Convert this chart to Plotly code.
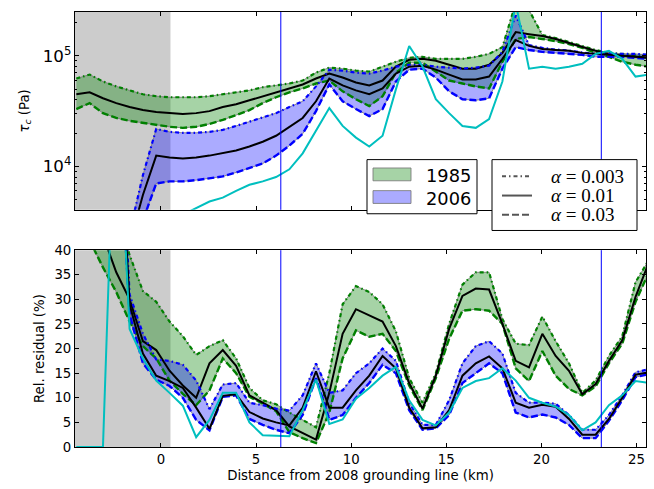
import plotly.graph_objects as go

# ---------------- data ----------------
X_KM = [-4.45, -3.75, -3.05, -2.35, -1.65, -0.95, -0.25, 0.45, 1.15, 1.85, 2.55,
        3.25, 3.95, 4.65, 5.35, 6.05, 6.75, 7.45, 8.15, 8.85, 9.55, 10.25, 10.95,
        11.65, 12.35, 13.05, 13.75, 14.45, 15.15, 15.85, 16.55, 17.25, 17.95, 18.65,
        19.35, 20.05, 20.75, 21.45, 22.15, 22.85, 23.55, 24.25, 24.95, 25.65]

# basal shear stress tau_c (kPa) -- 1985 band (alpha = 0.003 / 0.01 / 0.03)
TAU85_HI = [62.3, 67.7, 58.6, 52.9, 48.7, 44.9, 43.1, 42.2, 42.2, 42.2, 43.1, 44.9, 46.7,
            48.7, 52.0, 54.0, 56.2, 59.8, 70.5, 78.2, 76.6, 73.5, 72.0, 79.8, 88.4, 96,
            98, 94, 94, 94, 98, 104.2, 120, 300, 260, 154, 145, 133, 123, 113, 106.4,
            104.2, 102, 102]
TAU85_MID = [44.9, 46.7, 41.3, 37.3, 34.4, 32.3, 31.0, 30.3, 29.7, 30.3, 31.6, 34.4, 36.5,
             39.6, 43.1, 46.7, 50.7, 55.1, 62.3, 69.1, 63.6, 57.4, 54.0, 59.8, 79.8, 92,
             94, 90.2, 83.1, 76.6, 76.6, 83.1, 106.4, 164, 157, 151, 142, 131, 120, 111,
             104.2, 100, 98, 96]
TAU85_LO = [33.0, 37.3, 30.3, 27.4, 25.8, 24.7, 23.7, 22.8, 22.3, 22.8, 24.2, 26.3, 29.1,
            32.3, 37.3, 42.2, 46.7, 50.7, 56.2, 59.8, 47.7, 40.5, 35.1, 43.1, 70.5, 86.6,
            86.6, 72.0, 59.8, 56.2, 52.9, 50.7, 88.4, 142, 148, 142, 136, 128, 118, 106.4,
            98, 88.4, 83.1, 79.8]
# 2006 band
TAU06_HI = [None, None, None, None, 2.5, 8.3, 21.8, 20.5, 20.1, 20.1, 20.5, 21.4, 23.2,
            25.3, 27.4, 30.3, 34.4, 38.8, 52.9, 75, 73.5, 70.5, 69.1, 73.5, 79.8, 83.1,
            83.1, 79.8, 78.2, 76.6, 78.2, 81.5, 108.6, 232, 125, 118, 114, 112, 107,
            104.2, 104.2, 104.2, 104.2, 102]
TAU06_MID = [None, None, None, None, 2.0, 5.5, 12.5, 12.0, 11.8, 12.0, 12.5, 13.1, 13.9,
             15.1, 16.7, 18.9, 22.8, 27.4, 38.8, 62.3, 54.0, 48.7, 44.9, 50.7, 69.1, 79.8,
             81.5, 75.0, 67.7, 61.1, 61.1, 64.9, 94, 139, 123, 115.5, 113, 111, 106.4,
             104.2, 102, 100, 98, 96]
TAU06_LO = [None, None, None, None, 1.5, 3.3, 7.0, 7.3, 7.3, 7.5, 7.8, 8.1, 8.8, 9.6,
            10.6, 12.5, 15.4, 19.7, 31.6, 55.1, 38.8, 33.0, 28.5, 33.0, 58.6, 75.0, 76.6,
            63.6, 47.7, 40.5, 39.6, 41.3, 76.6, 120, 113, 108.6, 106.4, 104.2, 102, 98,
            98, 98, 96, 94]
TAU_CYAN = [2.0, 2.0, 2.0, 2.1, 2.2, 2.4, 2.7, 3.1, 3.65, 4.2, 4.8, 5.2, 6.0, 6.8, 7.3,
            8.0, 9.4, 13.1, 20.9, 33.7, 23.2, 18.2, 15.1, 18.9, 49.7, 123, 80, 40.5, 30.3,
            23.2, 22.3, 26.8, 58.6, 300, 76.6, 79.8, 76.6, 79.8, 84.9, 104, 111, 94, 64.9,
            67.7]

# relative residual (%)
RES85_HI = [70, 58, 50, 48, 39, 31.7, 29.5, 25.5, 22.5, 18.7, 20.5, 21.7, 18, 12, 9.5,
            8.7, 7, 5.5, 4, 15, 29, 32.7, 31.5, 29, 23.5, 14, 9, 15, 25, 33, 35.5, 35.5,
            26, 21, 20.7, 26.5, 21.5, 17, 11, 13.5, 18.5, 22.5, 33.5, 38]
RES85_MID = [65, 55, 43, 35.5, 30, 21.5, 19.7, 15.5, 12.5, 10, 17, 19.7, 16.5, 10.5, 9,
             7.5, 4.2, 2.8, 1.5, 11, 23, 28, 26.7, 25.5, 20.5, 13, 7.8, 14.5, 24, 30.7,
             32.2, 32, 25, 17.5, 16.2, 23, 18.5, 15.5, 10.7, 12.8, 17.5, 21.7, 30.5, 37.5]
RES85_LO = [50, 42, 36.5, 31.5, 25.5, 20.5, 18, 13.5, 10.8, 8.5, 11.5, 18, 15, 10.2, 8.8,
            7.3, 3, 1.8, 0.8, 7, 18, 23.7, 22.4, 23, 19.5, 12.5, 7.5, 14, 22, 27.7, 28,
            27.7, 25, 16, 13.4, 19.5, 14.5, 11.8, 10.5, 12.3, 17, 21, 29.5, 35.5]
RES06_HI = [None, None, None, 85, 31, 23, 17.8, 17.5, 16.7, 13.5, 7.7, 12.7, 13, 9, 8.5,
            7.8, 7.4, 10.5, 17, 11, 11.5, 15, 17, 20, 17.5, 9, 4.5, 4.5, 9.5, 17, 20.5,
            21.5, 19, 11, 9, 9, 8.8, 6.5, 3.5, 3.5, 6.5, 10.5, 15.2, 15.8]
RES06_MID = [None, None, None, 80, 29, 19, 14.5, 13.4, 12, 8, 3.7, 10.4, 10.7, 7.1, 5.8,
             5, 4.4, 8, 15.4, 8, 8, 11.5, 14.5, 18.5, 16, 8, 3.8, 4, 7.5, 14.5, 17, 18.4,
             16, 9, 8, 8.6, 8.2, 5.7, 2.5, 2.5, 5.7, 10, 14.7, 15.2]
RES06_LO = [None, None, None, 75, 27, 17, 13.7, 12.4, 10, 5.5, 3.4, 10.2, 10.5, 5.7, 4.5,
            3.5, 2.8, 6.5, 14, 5.5, 6.5, 10, 13, 16.7, 15, 7.5, 3.5, 3.8, 6.5, 13, 15, 17,
            15, 7, 6, 6.6, 6, 4.5, 1.8, 1.8, 5.3, 9.5, 14.2, 14.8]
RES_CYAN = [0, 0, 0, 80, 24, 18, 13.5, 11, 8.4, 2, 5.5, 11, 11, 5, 2.4, 2.3, 2.2, 7.5,
            13.7, 4.7, 5.6, 9.8, 12, 14.5, 16.3, 9.5, 5.5, 4.4, 7, 12, 13.4, 14, 16, 13.5,
            10, 9, 8.2, 6.5, 3.4, 5, 8.5, 10.5, 13.4, 13]

GRAY_SPAN = [-4.6, 0.5]          # km
GROUNDING_MARKS = [6.3, 23.15]    # km
X_TICKS = [0, 5, 10, 15, 20, 25]
YEARS = ["1985", "2006"]
ALPHA_LABELS = ["0.003", "0.01", "0.03"]

# ---------------- styles ----------------
GREEN, BLUE, CYAN = "#008000", "#0000ff", "#00bfbf"
GREEN_FILL, BLUE_FILL = "rgba(0,128,0,0.35)", "rgba(0,0,255,0.33)"
EDGE = "rgba(120,120,120,0.85)"
DASHDOT = "4px,3px,1.5px,3px"
DASHED = "7px,3px"
FONT = "DejaVu Sans"

# figure geometry (pixels)
W, H = 654, 489
ML, MR, MT, MB = 75, 8, 5, 42
PW, PH = W - ML - MR, H - MT - MB

fig = go.Figure()


def pts(ys, scale=1.0):
    xs_out, ys_out = [], []
    for x, y in zip(X_KM, ys):
        if y is not None:
            xs_out.append(x)
            ys_out.append(y * scale)
    return xs_out, ys_out


def band(hi, lo, fill, xa, ya, scale=1.0):
    x1, y1 = pts(hi, scale)
    x2, y2 = pts(lo, scale)
    fig.add_trace(go.Scatter(x=x1, y=y1, mode="lines", line=dict(color=EDGE, width=1),
                             showlegend=False, xaxis=xa, yaxis=ya, hoverinfo="skip"))
    fig.add_trace(go.Scatter(x=x2, y=y2, mode="lines", line=dict(color=EDGE, width=1),
                             fill="tonexty", fillcolor=fill, showlegend=False,
                             xaxis=xa, yaxis=ya, hoverinfo="skip"))


def line(ys, color, dash, width, xa, ya, scale=1.0):
    x, y = pts(ys, scale)
    fig.add_trace(go.Scatter(x=x, y=y, mode="lines",
                             line=dict(color=color, dash=dash, width=width),
                             showlegend=False, xaxis=xa, yaxis=ya))


for xa, ya, sc, d in [("x", "y", 1000.0,
                       (TAU85_HI, TAU85_MID, TAU85_LO, TAU06_HI, TAU06_MID, TAU06_LO, TAU_CYAN)),
                      ("x2", "y2", 1.0,
                       (RES85_HI, RES85_MID, RES85_LO, RES06_HI, RES06_MID, RES06_LO, RES_CYAN))]:
    h85, m85, l85, h06, m06, l06, cy = d
    band(h85, l85, GREEN_FILL, xa, ya, sc)
    band(h06, l06, BLUE_FILL, xa, ya, sc)
    line(h85, GREEN, DASHDOT, 2.2, xa, ya, sc)
    line(l85, GREEN, DASHED, 2.4, xa, ya, sc)
    line(m85, "black", "solid", 2, xa, ya, sc)
    line(h06, BLUE, DASHDOT, 2.2, xa, ya, sc)
    line(l06, BLUE, DASHED, 2.4, xa, ya, sc)
    line(m06, "black", "solid", 2, xa, ya, sc)
    line(cy, CYAN, "solid", 2, xa, ya, sc)

shapes = []
for yref in ["y domain", "y2 domain"]:
    xref = "x" if yref.startswith("y ") else "x2"
    shapes.append(dict(type="rect", xref=xref, yref=yref, x0=GRAY_SPAN[0], x1=GRAY_SPAN[1],
                       y0=0, y1=1, fillcolor="#cccccc", line=dict(width=0), layer="below"))
    for gx in GROUNDING_MARKS:
        shapes.append(dict(type="line", xref=xref, yref=yref, x0=gx, x1=gx, y0=0, y1=1,
                           line=dict(color=BLUE, width=1), layer="above"))


# ---------------- hand-built legends (pixel placement -> paper coords) ----------------
def px(x):
    return (x - ML) / PW


def py(y):
    return (H - MB - y) / PH


annotations = []


def box(x0, y0, x1, y1, fill, edge, width=1, dash="solid"):
    shapes.append(dict(type="rect", xref="paper", yref="paper", x0=px(x0), x1=px(x1),
                       y0=py(y1), y1=py(y0), fillcolor=fill,
                       line=dict(color=edge, width=width, dash=dash), layer="above"))


def text(x, y, s, family, size):
    annotations.append(dict(xref="paper", yref="paper", x=px(x), y=py(y), text=s,
                            showarrow=False, xanchor="left", yanchor="middle",
                            font=dict(family=family, size=size, color="black")))


# legend 1: years
box(367, 155, 477, 210, "white", "black")
for i, (name, col) in enumerate(zip(YEARS, [GREEN_FILL, BLUE_FILL])):
    yc = 170 + 23 * i
    box(373, yc - 6.5, 411, yc + 6.5, col, EDGE)
    text(424, yc + 1, name, FONT, 17.8)

# legend 2: regularisation strength
box(492, 155, 637, 227, "white", "black")
for i, (lab, dash) in enumerate(zip(ALPHA_LABELS, [DASHDOT, "solid", DASHED])):
    yc = 172 + 19.5 * i
    shapes.append(dict(type="line", xref="paper", yref="paper", x0=px(502), x1=px(532),
                       y0=py(yc), y1=py(yc),
                       line=dict(color="#555555", width=2, dash=dash), layer="above"))
    text(549, yc, "<i>α</i> = " + lab, "Liberation Serif", 19)

axis_common = dict(showline=True, linecolor="black", linewidth=1, mirror="ticks",
                   ticks="inside", ticklen=4, tickcolor="black", showgrid=False,
                   zeroline=False, tickfont=dict(family=FONT, size=13.3, color="black"))

fig.update_layout(
    width=W, height=H,
    margin=dict(l=ML, r=MR, t=MT, b=MB),
    paper_bgcolor="white", plot_bgcolor="white",
    font=dict(family=FONT, size=13.3, color="black"),
    showlegend=False,
    shapes=shapes,
    annotations=annotations,
    xaxis=dict(domain=[0, 1], anchor="y", range=[-4.52, 25.5], tickvals=X_TICKS,
               showticklabels=False, **axis_common),
    yaxis=dict(domain=[0.5452, 1], anchor="x", type="log", range=[3.606, 5.397],
               dtick=1, exponentformat="power",
               minor=dict(ticks="inside", ticklen=2, tickcolor="black", dtick="D1"),
               title=dict(text="<i>τ<sub>c</sub></i> (Pa)", standoff=10,
                          font=dict(family=FONT, size=13.3)),
               **axis_common),
    xaxis2=dict(domain=[0, 1], anchor="y2", matches="x", range=[-4.52, 25.5],
                tickvals=X_TICKS,
                title=dict(text="Distance from 2008 grounding line (km)", standoff=4,
                           font=dict(family=FONT, size=13.3)),
                **axis_common),
    yaxis2=dict(domain=[0, 0.4525], anchor="x2", range=[0, 40], dtick=5,
                title=dict(text="Rel. residual (%)", standoff=6,
                           font=dict(family=FONT, size=13.3)),
                **axis_common),
)

fig.write_html("out.html")
